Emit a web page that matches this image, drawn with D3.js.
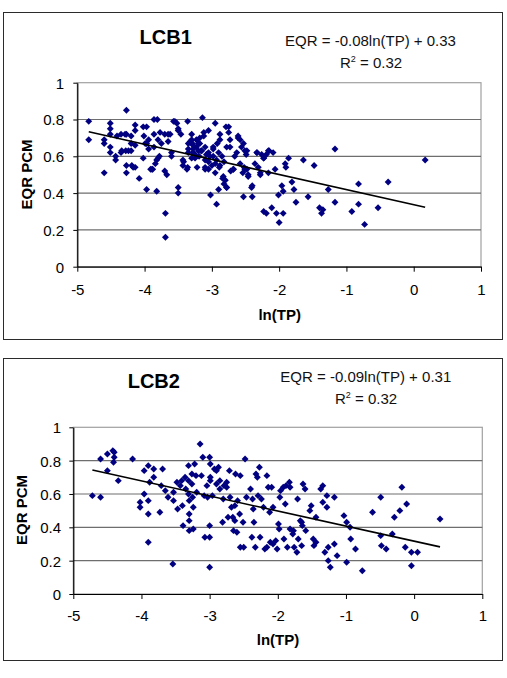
<!DOCTYPE html>
<html><head><meta charset="utf-8">
<script src="https://cdn.jsdelivr.net/npm/d3@7"></script>
<style>body{margin:0;background:#fff}svg{display:block}text{font-family:"Liberation Sans",Arial,sans-serif}</style>
</head><body><svg id="c" width="507" height="678"></svg>
<script>
// ---------- DATA ----------
const xTicks = [-5, -4, -3, -2, -1, 0, 1];
const yTicks = [0, 0.2, 0.4, 0.6, 0.8, 1];
const yTickLabels = ["0", "0.2", "0.4", "0.6", "0.8", "1"];
const titles = ["LCB1", "LCB2"];
const equations = ["EQR = -0.08ln(TP) + 0.33", "EQR = -0.09ln(TP) + 0.31"];
const r2Values = ["0.32", "0.32"];
const xTitle = "ln(TP)";
const yTitle = "EQR PCM";

// LCB1 points
const lcb1X = [-4.83,-4.83,-4.60,-4.60,-4.60,-4.51,-4.51,-4.51,-4.51,-4.51,-4.43,-4.43,-4.35,-4.35,-4.27,-4.27,-4.28,-4.27,-4.27,-4.20,-4.20,-4.20,-4.19,-4.14,-4.14,-4.14,-4.14,-4.08,-4.02,-4.01,-4.02,-3.97,-3.97,-3.97,-3.94,-3.91,-3.86,-3.81,-3.86,-3.86,-3.88,-3.82,-3.80,-3.77,-3.75,-3.78,-3.82,-3.69,-3.69,-3.70,-3.67,-3.65,-3.65,-3.60,-3.60,-3.57,-3.52,-3.50,-3.46,-3.50,-3.50,-3.43,-3.43,-3.36,-3.36,-3.35,-3.35,-3.30,-3.30,-3.29,-3.28,-3.28,-3.25,-3.23,-3.23,-3.20,-3.19,-3.18,-3.16,-3.14,-3.12,-3.12,-3.10,-3.10,-3.10,-3.08,-3.05,-3.05,-3.03,-3.02,-2.98,-2.98,-2.95,-2.95,-2.95,-2.93,-2.92,-2.90,-2.89,-2.88,-2.85,-2.84,-2.82,-2.82,-2.79,-2.78,-2.78,-2.75,-2.75,-2.73,-2.72,-2.68,-2.66,-2.63,-2.61,-2.58,-2.56,-2.53,-2.54,-2.52,-2.51,-2.49,-2.48,-2.46,-2.40,-2.40,-2.36,-2.33,-2.31,-2.28,-2.26,-2.23,-2.23,-2.19,-2.19,-2.16,-2.15,-2.11,-2.09,-2.06,-2.01,-2.00,-2.04,-1.96,-1.94,-1.94,-1.91,-1.90,-1.86,-1.81,-1.78,-1.75,-1.64,-1.57,-1.48,-1.40,-1.37,-1.35,-1.27,-1.17,-1.17,-0.92,-0.82,-0.82,-0.73,-0.53,-0.38,0.17,
 -3.32,-3.28,-3.20,-3.35,-3.25,-3.15,-3.05,-2.98,-2.93,-2.88,-3.00,-3.10,-3.22,-2.83,-2.80,-2.68,-2.58,-2.51,-2.46,-2.33,-2.23,-2.16,-2.61,-2.53,-2.48,-2.88,-2.73,-3.18,-3.42,-3.37,-2.41,-2.28,-2.78,-2.90,-3.30,-3.05,
 -4.29,-4.24,-4.17,-3.89,-3.84,-3.80,-3.70,-3.62,-3.55,-3.50,-3.99,-3.94,-4.41,-4.34];
const lcb1Y = [0.79,0.69,0.51,0.69,0.67,0.78,0.75,0.72,0.65,0.62,0.60,0.58,0.72,0.62,0.85,0.72,0.63,0.55,0.51,0.71,0.67,0.63,0.55,0.77,0.74,0.66,0.54,0.48,0.76,0.71,0.59,0.42,0.76,0.67,0.69,0.53,0.80,0.80,0.72,0.65,0.53,0.41,0.69,0.73,0.67,0.60,0.58,0.29,0.16,0.52,0.50,0.72,0.68,0.62,0.60,0.79,0.78,0.75,0.72,0.43,0.40,0.58,0.55,0.79,0.54,0.67,0.64,0.72,0.69,0.67,0.64,0.62,0.59,0.69,0.65,0.63,0.60,0.67,0.63,0.81,0.73,0.71,0.65,0.58,0.54,0.61,0.74,0.53,0.60,0.39,0.64,0.60,0.78,0.56,0.51,0.34,0.67,0.62,0.54,0.72,0.60,0.48,0.45,0.57,0.76,0.65,0.43,0.76,0.73,0.65,0.52,0.53,0.60,0.62,0.71,0.69,0.65,0.38,0.51,0.54,0.63,0.61,0.53,0.49,0.44,0.38,0.56,0.62,0.54,0.51,0.61,0.59,0.30,0.61,0.29,0.51,0.63,0.32,0.62,0.53,0.39,0.24,0.29,0.44,0.41,0.29,0.56,0.54,0.59,0.46,0.42,0.35,0.58,0.38,0.55,0.32,0.29,0.31,0.42,0.64,0.35,0.30,0.45,0.34,0.23,0.32,0.46,0.58,
 0.68,0.66,0.67,0.62,0.61,0.63,0.62,0.65,0.58,0.55,0.55,0.53,0.54,0.49,0.47,0.53,0.56,0.53,0.50,0.62,0.59,0.63,0.70,0.67,0.63,0.69,0.69,0.70,0.57,0.53,0.43,0.50,0.43,0.42,0.59,0.57,
 0.72,0.63,0.54,0.53,0.56,0.59,0.72,0.72,0.79,0.74,0.67,0.64,0.71,0.63];

// LCB2 points
const lcb2X = [-4.72,-4.60,-4.60,-4.50,-4.50,-4.42,-4.40,-4.40,-4.41,-4.34,-4.13,-4.02,-4.02,-3.96,-3.96,-3.90,-3.90,-3.90,-3.90,-3.88,-3.82,-3.82,-3.73,-3.71,-3.69,-3.65,-3.61,-3.54,-3.53,-3.53,-3.48,-3.47,-3.43,-3.41,-3.40,-3.39,-3.36,-3.35,-3.31,-3.31,-3.31,-3.30,-3.30,-3.30,-3.30,-3.26,-3.26,-3.25,-3.24,-3.24,-3.22,-3.20,-3.19,-3.14,-3.12,-3.10,-3.08,-3.07,-3.04,-3.03,-3.00,-2.99,-3.00,-3.00,-3.00,-2.99,-2.99,-2.96,-2.93,-2.90,-2.87,-2.90,-2.85,-2.85,-2.81,-2.80,-2.79,-2.75,-2.75,-2.73,-2.71,-2.70,-2.68,-2.66,-2.65,-2.63,-2.63,-2.62,-2.60,-2.59,-2.56,-2.55,-2.55,-2.50,-2.51,-2.48,-2.46,-2.40,-2.38,-2.37,-2.36,-2.35,-2.33,-2.32,-2.30,-2.29,-2.27,-2.26,-2.24,-2.21,-2.19,-2.16,-2.16,-2.14,-2.12,-2.11,-2.09,-2.07,-2.07,-2.03,-2.01,-1.99,-1.98,-1.97,-1.96,-1.89,-1.92,-1.88,-1.91,-1.86,-1.83,-1.82,-1.82,-1.78,-1.77,-1.76,-1.72,-1.71,-1.70,-1.67,-1.65,-1.64,-1.65,-1.63,-1.60,-1.59,-1.53,-1.51,-1.48,-1.47,-1.44,-1.44,-1.37,-1.34,-1.34,-1.31,-1.28,-1.28,-1.26,-1.23,-1.26,-1.17,-1.17,-1.13,-1.03,-0.99,-0.99,-0.94,-0.93,-0.86,-0.76,-0.61,-0.49,-0.49,-0.48,-0.41,-0.32,-0.29,-0.21,-0.18,-0.13,-0.11,-0.04,-0.04,0.05,0.38];
const lcb2Y = [0.59,0.58,0.81,0.84,0.74,0.86,0.85,0.82,0.79,0.68,0.81,0.52,0.55,0.60,0.74,0.77,0.56,0.48,0.31,0.67,0.70,0.75,0.49,0.65,0.75,0.62,0.58,0.18,0.61,0.56,0.67,0.51,0.65,0.68,0.53,0.41,0.70,0.63,0.77,0.68,0.60,0.56,0.48,0.44,0.38,0.72,0.66,0.58,0.52,0.39,0.78,0.71,0.61,0.90,0.71,0.82,0.59,0.34,0.65,0.58,0.82,0.78,0.41,0.34,0.16,0.70,0.68,0.59,0.75,0.74,0.76,0.66,0.68,0.63,0.43,0.57,0.65,0.67,0.64,0.46,0.74,0.58,0.52,0.46,0.38,0.53,0.44,0.72,0.37,0.56,0.48,0.71,0.28,0.28,0.43,0.81,0.58,0.63,0.34,0.57,0.51,0.43,0.28,0.72,0.70,0.59,0.76,0.34,0.57,0.52,0.27,0.28,0.71,0.64,0.49,0.31,0.64,0.52,0.30,0.32,0.27,0.42,0.39,0.58,0.62,0.54,0.64,0.65,0.33,0.28,0.67,0.64,0.39,0.36,0.38,0.28,0.25,0.57,0.33,0.44,0.43,0.41,0.29,0.66,0.63,0.38,0.50,0.53,0.33,0.29,0.31,0.46,0.63,0.65,0.55,0.25,0.52,0.59,0.28,0.16,0.20,0.30,0.58,0.23,0.47,0.43,0.19,0.40,0.33,0.27,0.14,0.49,0.58,0.35,0.29,0.27,0.36,0.46,0.50,0.64,0.28,0.54,0.17,0.25,0.25,0.45];

// Fitted trend lines (slope, intercept) and x-extent
const trendSlope = [-0.082, -0.0904];
const trendIntercept = [0.337, 0.317];
const trendXStart = [-4.83, -4.72];
const trendXEnd = [0.17, 0.38];

// ---------- LAYOUT ----------
const panels = [
  {frame:[3,12,499,327], plot:{l:77.3,r:481,t:82.7,b:266.7}, title:[165.7,44], eq:[370.5,45.7], r2:[371,68.3], xl:295, xt:[279.7,319.5], yl:64, yt:[31.5,174.5], xs:lcb1X, ys:lcb1Y},
  {frame:[3,358,499,302], plot:{l:73.3,r:482.3,t:427.3,b:594}, title:[153.8,388.3], eq:[365.8,381.7], r2:[366,404], xl:620.7, xt:[278,645], yl:61, yt:[27.3,510], xs:lcb2X, ys:lcb2Y}
];

const svg = d3.select("#c");
const marker = d3.symbol().type(d3.symbolSquare).size(24);

panels.forEach((p, i) => {
  const g = svg.append("g");
  g.append("rect").attr("x", p.frame[0]+0.5).attr("y", p.frame[1]+0.5)
    .attr("width", p.frame[2]).attr("height", p.frame[3])
    .attr("fill", "#fff").attr("stroke", "#2b2b2b").attr("stroke-width", 1);

  const x = d3.scaleLinear().domain([-5, 1]).range([p.plot.l, p.plot.r]);
  const y = d3.scaleLinear().domain([0, 1]).range([p.plot.b, p.plot.t]);

  // plot area border (top/right) + gridlines
  g.append("rect").attr("x", p.plot.l).attr("y", p.plot.t)
    .attr("width", p.plot.r - p.plot.l).attr("height", p.plot.b - p.plot.t)
    .attr("fill", "none").attr("stroke", "#a0a0a0").attr("stroke-width", 1.2);
  g.append("g").selectAll("line").data(yTicks.filter(v => v > 0 && v < 1)).join("line")
    .attr("x1", p.plot.l).attr("x2", p.plot.r)
    .attr("y1", d => y(d)).attr("y2", d => y(d))
    .attr("stroke", "#6e6e6e").attr("stroke-width", 1.2);

  // axes
  const yAx = g.append("g").attr("transform", `translate(${p.plot.l},0)`)
    .call(d3.axisLeft(y).tickValues(yTicks).tickSize(4).tickSizeOuter(0).tickFormat((d, k) => yTickLabels[k]));
  yAx.select(".domain").attr("stroke", "#000").attr("stroke-width", 1.2);
  yAx.selectAll(".tick line").attr("stroke", "#000");
  yAx.selectAll("text").attr("font-size", 15).attr("fill", "#000")
    .attr("x", -(p.plot.l - p.yl)).attr("dy", "0.36em")
    .style("font-family", '"Liberation Sans", Arial, sans-serif');

  const xAx = g.append("g").attr("transform", `translate(0,${p.plot.b})`)
    .call(d3.axisBottom(x).tickValues(xTicks).tickSize(5).tickSizeOuter(0).tickFormat(d3.format("d")));
  xAx.select(".domain").attr("stroke", "#000").attr("stroke-width", 1.2);
  xAx.selectAll(".tick line").attr("stroke", "#000");
  xAx.selectAll("text").attr("font-size", 15).attr("fill", "#000")
    .attr("y", p.xl - p.plot.b).attr("dy", 0)
    .style("font-family", '"Liberation Sans", Arial, sans-serif');
  xAx.selectAll(".tick text").text(d => d < 0 ? "-" + Math.abs(d) : d);

  // points
  g.append("g").selectAll("path").data(d3.range(p.xs.length)).join("path")
    .attr("d", marker)
    .attr("transform", k => `translate(${x(p.xs[k])},${y(p.ys[k])}) rotate(45)`)
    .attr("fill", "#000080");

  // trend line
  const tx = [trendXStart[i], trendXEnd[i]];
  g.append("path")
    .attr("d", d3.line().x(d => x(d)).y(d => y(trendSlope[i] * d + trendIntercept[i]))(tx))
    .attr("stroke", "#000").attr("stroke-width", 1.6).attr("fill", "none");

  // texts
  g.append("text").attr("x", p.title[0]).attr("y", p.title[1]).attr("text-anchor", "middle")
    .attr("font-size", 20).attr("font-weight", "bold").text(titles[i]);
  g.append("text").attr("x", p.eq[0]).attr("y", p.eq[1]).attr("text-anchor", "middle")
    .attr("font-size", 15).attr("fill", "#111").text(equations[i]);
  const r2 = g.append("text").attr("x", p.r2[0]).attr("y", p.r2[1]).attr("text-anchor", "middle")
    .attr("font-size", 15).attr("fill", "#111");
  r2.append("tspan").text("R");
  r2.append("tspan").attr("dy", -6).attr("font-size", 9).text("2");
  r2.append("tspan").attr("dy", 6).text(" = " + r2Values[i]);

  g.append("text").attr("x", p.xt[0]).attr("y", p.xt[1]).attr("text-anchor", "middle")
    .attr("font-size", 15).attr("font-weight", "bold").text(xTitle);
  g.append("text").attr("transform", `translate(${p.yt[0]},${p.yt[1]}) rotate(-90)`)
    .attr("text-anchor", "middle").attr("font-size", 15).attr("font-weight", "bold").text(yTitle);
});
</script></body></html>
